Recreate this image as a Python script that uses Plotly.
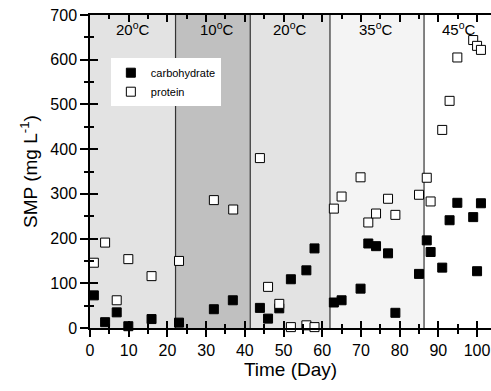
import plotly.graph_objects as go

# ---- data ----
carb_day = [1, 3.9, 6.9, 9.9, 15.9, 23, 32, 36.9, 43.9, 46, 48.9, 51.9, 55.9, 58,
            63, 65, 69.9, 71.9, 73.9, 77, 78.9, 85, 87, 88, 91, 92.9, 94.9, 99, 100, 101]
carb_val = [73, 13, 35, 4, 20, 12, 42, 62, 45, 21, 44, 109, 129, 178,
            57, 62, 88, 189, 183, 167, 34, 121, 196, 170, 135, 241, 280, 248, 127, 279]

prot_day = [1, 3.9, 6.9, 9.9, 15.9, 23, 32, 37, 43.9, 46, 48.9, 51.9, 55.9, 58,
            63, 65, 69.9, 71.9, 73.9, 77, 78.9, 85, 87, 88, 91, 92.9, 94.9, 99, 100, 101]
prot_val = [146, 191, 62, 154, 116, 150, 286, 265, 380, 92, 54, 2, 6, 2,
            267, 294, 337, 236, 256, 289, 253, 298, 336, 283, 443, 508, 605, 644, 631, 622]

phase_bounds = [0, 22.1, 41.4, 62.0, 86.3, 103.6]
phase_labels = ["20<sup>o</sup>C", "10<sup>o</sup>C", "20<sup>o</sup>C", "35<sup>o</sup>C", "45<sup>o</sup>C"]
phase_label_x = [11, 32.8, 51.7, 74, 95.3]
phase_colors = ["#e3e3e3", "#c0c0c0", "#e3e3e3", "#f4f4f4", "#ffffff"]

x_range = [0, 103.6]
y_range = [0, 700]

FONT = "Liberation Sans, Arial, sans-serif"

fig = go.Figure()

fig.add_trace(go.Scatter(
    x=carb_day, y=carb_val, mode="markers", name="carbohydrate",
    marker=dict(symbol="square", size=9, color="black", line=dict(color="black", width=1)),
    cliponaxis=False,
))
fig.add_trace(go.Scatter(
    x=prot_day, y=prot_val, mode="markers", name="protein",
    marker=dict(symbol="square", size=9, color="white", line=dict(color="black", width=1)),
    cliponaxis=False,
))

shapes = []
for i in range(len(phase_colors)):
    shapes.append(dict(type="rect", xref="x", yref="y", layer="below",
                       x0=phase_bounds[i], x1=phase_bounds[i + 1], y0=y_range[0], y1=y_range[1],
                       fillcolor=phase_colors[i], line=dict(width=0)))
for b in phase_bounds[1:-1]:
    shapes.append(dict(type="line", xref="x", yref="y", layer="below",
                       x0=b, x1=b, y0=y_range[0], y1=y_range[1],
                       line=dict(color="#333333", width=1.2)))

annotations = []
for lab, lx in zip(phase_labels, phase_label_x):
    annotations.append(dict(x=lx, y=1.0, xref="x", yref="paper", yanchor="top", yshift=-2,
                            text=lab, showarrow=False,
                            font=dict(family=FONT, size=15, color="black")))

fig.update_layout(
    width=491, height=391,
    margin=dict(l=90, r=0, t=15, b=63),
    paper_bgcolor="white", plot_bgcolor="white",
    shapes=shapes, annotations=annotations,
    font=dict(family=FONT, color="black"),
    legend=dict(x=0.052, y=0.862, xanchor="left", yanchor="top",
                bgcolor="white", font=dict(family=FONT, size=11),
                tracegroupgap=0, itemwidth=30),
    xaxis=dict(range=x_range, tickvals=list(range(0, 101, 10)), showgrid=False, zeroline=False,
               showline=True, linecolor="black", linewidth=1.5, mirror=True,
               ticks="outside", ticklen=7, tickwidth=1.5, tickcolor="black",
               minor=dict(tickvals=list(range(5, 101, 10)), ticks="outside", ticklen=4, tickwidth=1.5, tickcolor="black"),
               tickfont=dict(size=16, family=FONT),
               title=dict(text="Time (Day)", font=dict(size=19, family=FONT), standoff=2)),
    yaxis=dict(range=y_range, tickvals=list(range(0, 701, 100)), showgrid=False, zeroline=False,
               showline=True, linecolor="black", linewidth=1.5,
               ticks="outside", ticklen=8, tickwidth=1.5, tickcolor="black",
               minor=dict(tickvals=list(range(50, 701, 100)), ticks="outside", ticklen=4, tickwidth=1.5, tickcolor="black"),
               tickfont=dict(size=16, family=FONT),
               title=dict(text="SMP (mg L<sup>-1</sup>)", font=dict(size=19, family=FONT), standoff=8)),
    xaxis2=dict(range=x_range, overlaying="x", tickvals=list(range(0, 101, 10)), showticklabels=False,
                showgrid=False, zeroline=False, showline=False, mirror="ticks",
                ticks="inside", ticklen=7, tickwidth=1.5, tickcolor="black",
                minor=dict(tickvals=list(range(5, 101, 10)), ticks="inside", ticklen=4, tickwidth=1.5, tickcolor="black")),
    yaxis2=dict(range=y_range, overlaying="y", tickvals=list(range(0, 701, 100)), showticklabels=False,
                showgrid=False, zeroline=False, showline=False,
                ticks="inside", ticklen=8, tickwidth=1.5, tickcolor="black",
                minor=dict(tickvals=list(range(50, 701, 100)), ticks="inside", ticklen=4, tickwidth=1.5, tickcolor="black")),
)
# invisible trace to activate the overlay axes for crossing ticks
fig.add_trace(go.Scatter(x=[None], y=[None], xaxis="x2", yaxis="y2", showlegend=False, hoverinfo="skip"))

fig.write_html("out.html")
